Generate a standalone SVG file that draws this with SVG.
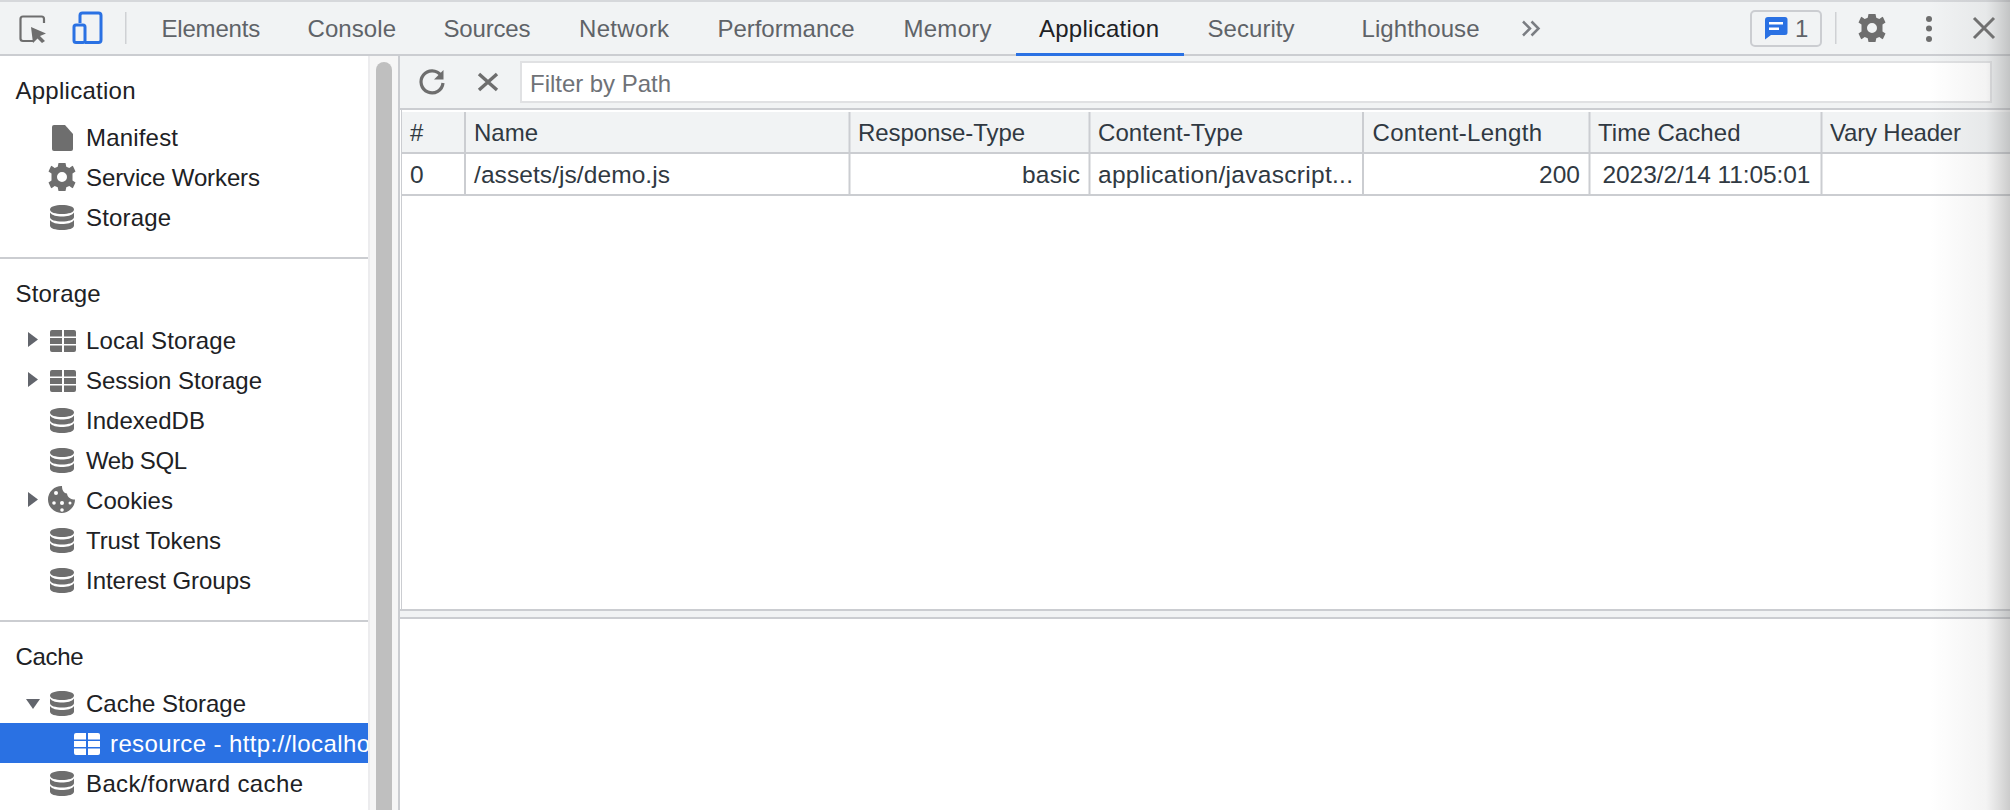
<svg xmlns="http://www.w3.org/2000/svg" xmlns:xlink="http://www.w3.org/1999/xlink" width="2010" height="810" viewBox="0 0 2010 810">
<style>
text{font-family:"Liberation Sans",Arial,sans-serif;font-size:24px}
.tab{fill:#5f6368}
.side{fill:#202124}
.th{fill:#303942;font-size:24px}
.td{fill:#303942;font-size:24.500px}
.ln{fill:#cbcdd1}
.ic{fill:#6e6e6e}
</style>
<defs>
<linearGradient id="fade" x1="0" x2="1" y1="0" y2="0">
<stop offset="0" stop-color="#888" stop-opacity="0"/>
<stop offset="0.7" stop-color="#888" stop-opacity="0.1"/>
<stop offset="1" stop-color="#777" stop-opacity="0.38"/>
</linearGradient>
<g id="db">
<path d="M0 4.500C0 1.500 5.500 0 12 0S24 1.500 24 4.500 18.500 9 12 9 0 7.500 0 4.500Z"/>
<path d="M0 7.500C2 10.500 7 11.500 12 11.500S22 10.500 24 7.500V12C24 15 18.500 16.500 12 16.500S0 15 0 12Z"/>
<path d="M0 15C2 18 7 19 12 19S22 18 24 15V20.500C24 23.500 18.500 25 12 25S0 23.500 0 20.500Z"/>
</g>
<g id="tb">
<path d="M2 0H12V6.500H0V2A2 2 0 0 1 2 0ZM14 0H24A2 2 0 0 1 26 2V6.500H14ZM0 8H12V14H0ZM14 8H26V14H14ZM0 15.500H12V22H2A2 2 0 0 1 0 20ZM14 15.500H26V20A2 2 0 0 1 24 22H14Z"/>
</g>
<path id="tri" d="M0 0L10 7.500L0 15Z" fill="#62656c"/>
<path id="gear" d="M-3.500-14H3.500L4.300-10.200 7.300-9 10.500-11.200 11.200-10.500 13.500-5.500 10.500-3.400V3.400L13.500 5.500 11.200 10.500 10.500 11.200 7.300 9 4.300 10.200 3.500 14H-3.500L-4.300 10.200-7.300 9-10.500 11.200-11.200 10.500-13.500 5.500-10.500 3.400V-3.400L-13.500-5.500-11.200-10.500-10.500-11.200-7.300-9-4.300-10.200ZM0-5A5 5 0 1 0 0 5 5 5 0 1 0 0-5Z" fill-rule="evenodd"/>
</defs>
<rect width="2010" height="810" fill="#fff"/>

<g id="topbar">
<rect width="2010" height="56" fill="#f1f3f4"/>
<rect width="2010" height="2" fill="#d6d8db"/>
<rect y="54" width="2010" height="2" class="ln"/>
<rect x="1016" y="53" width="168" height="3" fill="#2a71e3"/>
<g id="inspect-icon">
<path d="M33 41H23A2.500 2.500 0 0 1 20.500 38.500V19A2.500 2.500 0 0 1 23 16.500H41.500A2.500 2.500 0 0 1 44 19V23" fill="none" stroke="#6e6e6e" stroke-width="2.200"/>
<path d="M31 27L46 33.500 40 36 45 41 42 43 37.500 38.500 33 43Z" class="ic"/>
</g>
<g id="device-icon" fill="none" stroke="#2a71e3" stroke-width="3">
<path d="M80 23V15.500A2.500 2.500 0 0 1 82.500 13H98.500A2.500 2.500 0 0 1 101 15.500V40A2.500 2.500 0 0 1 98.500 42.500H85"/>
<rect x="74" y="25" width="11" height="17.500" rx="2"/>
</g>
<rect x="125" y="12" width="1.500" height="32" fill="#cfd1d4"/>
<text class="tab" x="161.500" y="37" textLength="98.700">Elements</text>
<text class="tab" x="307.500" y="37" textLength="88.500">Console</text>
<text class="tab" x="443.500" y="37" textLength="87">Sources</text>
<text class="tab" x="579" y="37" textLength="90">Network</text>
<text class="tab" x="717.500" y="37" textLength="137">Performance</text>
<text class="tab" x="903.500" y="37" textLength="88">Memory</text>
<text x="1039" y="37" fill="#202124" textLength="120">Application</text>
<text class="tab" x="1207.500" y="37" textLength="87">Security</text>
<text class="tab" x="1361.500" y="37" textLength="118">Lighthouse</text>
<path id="more-tabs" d="M1523 21.500L1530 28.500 1523 35.500M1531.500 21.500L1538.500 28.500 1531.500 35.500" fill="none" stroke="#7a7d82" stroke-width="2.500"/>
<g id="issues">
<rect x="1751" y="11" width="70" height="35" rx="4" fill="#f1f3f4" stroke="#cbcdd1" stroke-width="2"/>
<path d="M1768 17H1785A2.500 2.500 0 0 1 1787.500 19.500V32.500A2.500 2.500 0 0 1 1785 35H1771L1765 39.500V20A3 3 0 0 1 1768 17Z" fill="#2a71e3"/>
<rect x="1769" y="22" width="14" height="2.500" fill="#fff"/>
<rect x="1769" y="27.500" width="10" height="2.500" fill="#fff"/>
<text x="1795" y="37" fill="#5f6368">1</text>
</g>
<rect x="1835" y="12" width="1.500" height="32" fill="#cfd1d4"/>
<use href="#gear" x="1872" y="28" class="ic"/>
<g id="menu" class="ic"><circle cx="1929" cy="19" r="3"/><circle cx="1929" cy="28.500" r="3"/><circle cx="1929" cy="39" r="3"/></g>
<path id="close" d="M1974 18L1994 38M1994 18L1974 38" stroke="#6e6e6e" stroke-width="3" fill="none"/>
</g>

<g id="sidebar">
<rect x="368" y="56" width="30" height="754" fill="#f6f6f6"/>
<rect x="368" y="56" width="2" height="754" fill="#ececee"/>
<path d="M376 70A8 8 0 0 1 392 70V810H376Z" fill="#bfbfbf"/>
<rect x="398" y="56" width="2" height="754" class="ln"/>

<text class="side" x="15.500" y="99" textLength="120">Application</text>
<g id="nav-manifest"><path d="M54 125H65L73 134V149A2 2 0 0 1 71 151H54A2 2 0 0 1 52 149V127A2 2 0 0 1 54 125Z" class="ic"/><text class="side" x="86" y="146" textLength="92">Manifest</text></g>
<g id="nav-sw"><use href="#gear" x="62" y="177" class="ic"/><text class="side" x="86" y="186" textLength="174">Service Workers</text></g>
<g id="nav-storage"><use href="#db" x="50" y="205" class="ic"/><text class="side" x="86" y="226" textLength="85">Storage</text></g>
<rect y="257" width="368" height="2" class="ln"/>

<text class="side" x="15.500" y="302" textLength="85">Storage</text>
<g id="nav-local"><use href="#tri" x="28" y="332"/><use href="#tb" x="50" y="330" class="ic"/><text class="side" x="86" y="349" textLength="150">Local Storage</text></g>
<g id="nav-session"><use href="#tri" x="28" y="372"/><use href="#tb" x="50" y="370" class="ic"/><text class="side" x="86" y="389" textLength="176">Session Storage</text></g>
<g id="nav-idb"><use href="#db" x="50" y="408" class="ic"/><text class="side" x="86" y="429" textLength="119">IndexedDB</text></g>
<g id="nav-websql"><use href="#db" x="50" y="448" class="ic"/><text class="side" x="86" y="469" textLength="101">Web SQL</text></g>
<g id="nav-cookies"><use href="#tri" x="28" y="492"/>
<path d="M62 486A13.500 13.500 0 1 0 75 499.500C71 499.500 67.500 497.500 67 493.500C63.500 493 62 490 62 486Z" class="ic"/>
<g fill="#fff"><circle cx="56" cy="493" r="2"/><circle cx="62" cy="503" r="2"/><circle cx="54" cy="503" r="1.800"/><circle cx="62" cy="510" r="1.800"/><circle cx="70" cy="503" r="1.500"/></g>
<text class="side" x="86" y="509" textLength="87">Cookies</text></g>
<g id="nav-trust"><use href="#db" x="50" y="528" class="ic"/><text class="side" x="86" y="549" textLength="135">Trust Tokens</text></g>
<g id="nav-interest"><use href="#db" x="50" y="568" class="ic"/><text class="side" x="86" y="589" textLength="165">Interest Groups</text></g>
<rect y="620" width="368" height="2" class="ln"/>

<text class="side" x="15.500" y="665" textLength="68">Cache</text>
<g id="nav-cache"><path d="M26 699H40L33 709Z" fill="#62656c"/><use href="#db" x="50" y="691" class="ic"/><text class="side" x="86" y="712" textLength="160">Cache Storage</text></g>
<g id="nav-resource">
<rect y="723" width="368" height="40" fill="#2a71e3"/>
<use href="#tb" x="74" y="733" fill="#fff"/>
<svg x="0" y="723" width="368" height="40"><text x="110" y="29" fill="#fff" textLength="260">resource - http://localho</text></svg>
</g>
<g id="nav-bf"><use href="#db" x="50" y="771" class="ic"/><text class="side" x="86" y="792" textLength="217">Back/forward cache</text></g>
</g>

<g id="main">
<g id="filterbar">
<rect x="400" y="56" width="1610" height="54" fill="#f1f3f4"/>
<rect x="400" y="108" width="1610" height="2" class="ln"/>
<path id="refresh" d="M441 75.500A11 11 0 1 0 443 83" fill="none" stroke="#6e6e6e" stroke-width="3.200"/>
<path d="M443.500 70V79.500H434Z" class="ic"/>
<path id="clear" d="M479 74L497 90M497 74L479 90" stroke="#6e6e6e" stroke-width="3.400" fill="none"/>
<rect x="521" y="62" width="1470" height="40" fill="#fff" stroke="#e0e1e3" stroke-width="2"/>
<text x="530" y="92" fill="#6f7277" textLength="141">Filter by Path</text>
</g>
<g id="table">
<rect x="400" y="110" width="1610" height="2" fill="#fff"/>
<rect x="402" y="112" width="1608" height="41" fill="#f1f3f4"/>
<rect x="402" y="152" width="1608" height="2" class="ln"/>
<rect x="402" y="194" width="1608" height="2" class="ln"/>
<rect x="401" y="110" width="1" height="500" class="ln"/>
<g class="ln">
<rect x="464" y="112" width="2" height="83"/>
<rect x="848.500" y="112" width="2" height="83"/>
<rect x="1088.500" y="112" width="2" height="83"/>
<rect x="1362" y="112" width="2" height="83"/>
<rect x="1588.500" y="112" width="2" height="83"/>
<rect x="1820.500" y="112" width="2" height="83"/>
</g>
<text class="th" x="410" y="141">#</text>
<text class="th" x="474" y="141" textLength="64">Name</text>
<text class="th" x="858" y="141" textLength="167">Response-Type</text>
<text class="th" x="1098" y="141" textLength="145">Content-Type</text>
<text class="th" x="1372.500" y="141" textLength="169.500">Content-Length</text>
<text class="th" x="1598" y="141" textLength="142.500">Time Cached</text>
<text class="th" x="1830" y="141" textLength="131">Vary Header</text>
<text class="td" x="410" y="183">0</text>
<text class="td" x="474" y="183" textLength="196">/assets/js/demo.js</text>
<text class="td" x="1022" y="183" textLength="58">basic</text>
<text class="td" x="1098" y="183" textLength="255">application/javascript...</text>
<text class="td" x="1539" y="183" textLength="41">200</text>
<text class="td" x="1602.500" y="183" textLength="208">2023/2/14 11:05:01</text>
</g>
<g id="splitter">
<rect x="400" y="609" width="1610" height="10" fill="#f1f3f4"/>
<rect x="400" y="609" width="1610" height="2" class="ln"/>
<rect x="400" y="617" width="1610" height="2" class="ln"/>
</g>
</g>
<rect id="edge-fade" x="1930" y="0" width="80" height="810" fill="url(#fade)"/>
</svg>
